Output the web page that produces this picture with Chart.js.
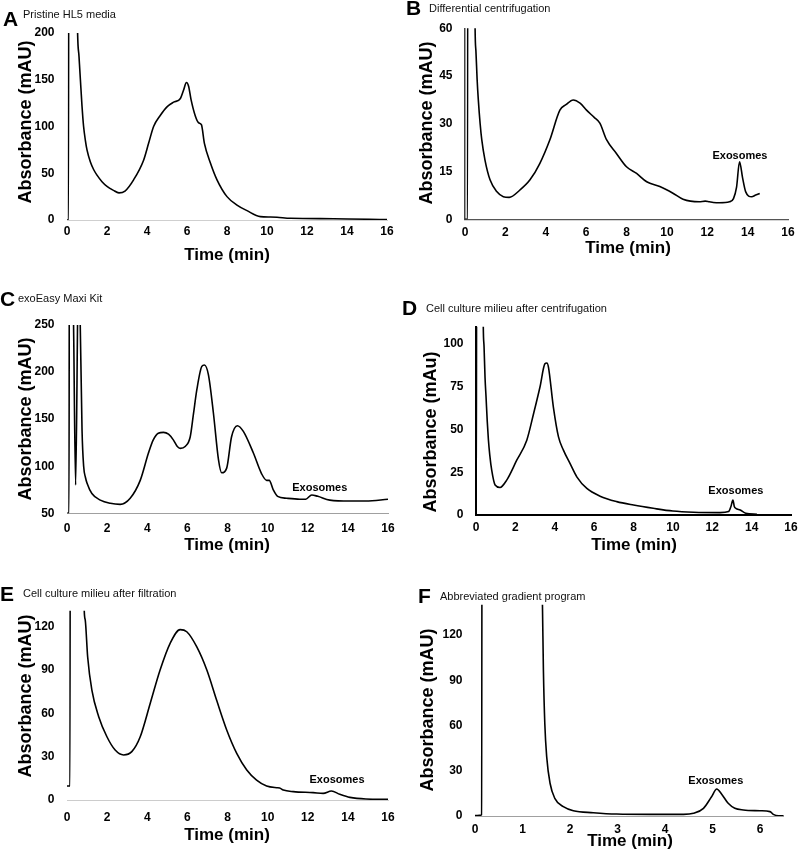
<!DOCTYPE html>
<html><head><meta charset="utf-8">
<script src="https://cdn.jsdelivr.net/npm/chart.js@4/dist/chart.umd.min.js"></script>
<style>
html,body{margin:0;padding:0;background:#fff;}
body{width:800px;height:851px;position:relative;overflow:hidden;}
canvas{position:absolute;}
</style></head><body>
<canvas id="cA" width="400" height="280" style="left:0px;top:0px"></canvas>
<canvas id="cB" width="400" height="280" style="left:400px;top:0px"></canvas>
<canvas id="cC" width="400" height="290" style="left:0px;top:280px"></canvas>
<canvas id="cD" width="400" height="290" style="left:400px;top:280px"></canvas>
<canvas id="cE" width="400" height="281" style="left:0px;top:570px"></canvas>
<canvas id="cF" width="400" height="281" style="left:400px;top:570px"></canvas>
<script>
// ---------- data ----------
const timeA = [0, 0.08, 0.1, 0.4, 0.53, 0.6, 0.67, 0.75, 0.83, 0.92, 1.0, 1.17, 1.33, 1.5, 1.75, 2.0, 2.3, 2.6, 2.9, 3.33, 3.83, 4.08, 4.33, 4.67, 5.0, 5.33, 5.67, 5.83, 5.97, 6.08, 6.2, 6.42, 6.58, 6.72, 6.87, 7.17, 7.5, 8.0, 8.5, 9.0, 9.67, 10.17, 10.5, 11.17, 13.33, 16];
const absA  = [0, 0, 900, 400, 200, 175, 150, 122, 100, 85, 75, 62, 54, 48, 41, 36, 32, 29, 31, 43, 64, 82, 100, 112, 121, 126, 130, 139, 147, 143, 129, 111, 104, 102, 82, 61, 43, 25, 16, 10, 3.6, 3.2, 2.9, 1.8, 1.4, 0.4];

const timeB = [0, 0.13, 0.15, 0.45, 0.5, 0.54, 0.6, 0.66, 0.75, 0.83, 0.99, 1.24, 1.57, 1.9, 2.19, 2.72, 3.22, 3.71, 4.2, 4.7, 5.0, 5.36, 5.7, 6.02, 6.4, 6.68, 7.01, 7.5, 8.0, 8.5, 9.0, 9.65, 10.3, 10.8, 11.6, 11.9, 12.1, 12.3, 12.6, 13.1, 13.3, 13.45, 13.6, 13.75, 13.9, 14.2, 14.4, 14.6];
const absB  = [0, 0, 300, 120, 60, 53, 44, 37.5, 30, 25, 18.6, 12.4, 8.7, 7.1, 6.9, 9.2, 12.4, 17.6, 24.9, 34.3, 36, 37.5, 36.5, 34.3, 32, 30.2, 25, 20.7, 16.5, 14.4, 11.8, 10.3, 8.2, 6.3, 5.5, 5.7, 5.5, 5.3, 5.2, 5.5, 6.5, 10, 18.1, 13, 8.7, 7.1, 7.6, 8.1];

const timeC = [0, 0.1, 0.12, 0.32, 0.43, 0.53, 0.6, 0.66, 0.75, 0.83, 0.92, 1.0, 1.24, 1.66, 2.16, 2.65, 3.15, 3.65, 4.06, 4.3, 4.55, 4.81, 5.06, 5.3, 5.5, 5.64, 5.89, 6.14, 6.3, 6.47, 6.72, 6.85, 7.05, 7.3, 7.55, 7.71, 7.96, 8.2, 8.49, 8.79, 9.29, 9.7, 9.95, 10.08, 10.28, 10.5, 10.95, 11.6, 11.9, 12.2, 12.5, 13.1, 14.1, 14.9, 16];
const absC  = [50, 50, 400, 260, 80, 260, 400, 250, 138, 100, 88, 82, 71, 64, 60.6, 59.5, 66, 85, 114, 128, 135, 136, 134, 128, 121, 119, 121, 131, 155, 181, 206, 207.5, 197, 156, 107, 93, 98, 131, 143, 137, 114, 92, 85, 85, 75, 68, 66, 65, 65, 69.5, 68, 64, 63, 63, 65];

const timeD = [0, 0.02, 0.04, 0.3, 0.37, 0.41, 0.46, 0.51, 0.57, 0.63, 0.7, 0.8, 0.97, 1.22, 1.56, 2.07, 2.58, 2.92, 3.25, 3.5, 3.6, 3.68, 3.93, 4.19, 4.44, 4.78, 5.12, 5.63, 6.3, 7.15, 8, 9, 10, 11.05, 12.4, 12.83, 12.95, 13.05, 13.12, 13.2, 13.42, 13.7, 14.27];
const absD  = [0, 0, 300, 200, 110, 98, 80, 69, 55, 44, 35, 26, 17.5, 16.1, 20.4, 32, 43.7, 59, 74.8, 88.3, 88.8, 86.4, 63, 45.6, 37.9, 30, 22.3, 15.5, 11, 7.8, 5.8, 3.9, 2.3, 1.6, 1.4, 2, 5, 8.7, 5, 3.9, 2.9, 1, 0.4];

const timeE = [0, 0.15, 0.17, 0.8, 0.86, 0.91, 1.03, 1.24, 1.58, 1.99, 2.4, 2.82, 3.23, 3.65, 4.15, 4.64, 5.14, 5.64, 5.97, 6.47, 6.97, 7.46, 7.96, 8.46, 8.96, 9.45, 9.95, 10.45, 10.6, 10.78, 11.28, 12.27, 12.77, 13.18, 13.6, 14.1, 14.9, 16];
const absE  = [9.7, 9.7, 400, 200, 131, 124.6, 99, 76, 57.7, 43.8, 34.6, 31.2, 33.5, 43.8, 67, 90, 108.5, 118, 116.5, 106, 90, 69, 48.5, 32.3, 20.8, 13.8, 9.7, 8.5, 8.3, 6.9, 5.8, 5.1, 4.6, 6.2, 3.9, 1.8, 0.7, 0.5];

const timeF = [0, 0.1, 0.14, 0.155, 1.3, 1.42, 1.44, 1.47, 1.51, 1.58, 1.68, 1.86, 2.07, 2.49, 2.98, 3.68, 4.39, 4.6, 4.81, 4.98, 5.09, 5.19, 5.33, 5.47, 5.65, 6.0, 6.21, 6.28, 6.39, 6.5];
const absF  = [0.3, 0.4, 0.8, 500, 300, 140, 97, 61, 39, 21.7, 11.7, 6.2, 3.5, 2.2, 1.3, 1.1, 1.1, 1.8, 5.1, 12.8, 17.9, 14.6, 8.4, 5.1, 4, 3.5, 2.9, 1.1, 0.2, 0.2];

const xTicks16 = [0, 2, 4, 6, 8, 10, 12, 14, 16];
const xTicksF  = [0, 1, 2, 3, 4, 5, 6];
const yTicksA = [0, 50, 100, 150, 200];
const yTicksB = [0, 15, 30, 45, 60];
const yTicksC = [50, 100, 150, 200, 250];
const yTicksD = [0, 25, 50, 75, 100];
const yTicksE = [0, 30, 60, 90, 120];
const yTicksF = [0, 30, 60, 90, 120];

const panelLetters = ['A', 'B', 'C', 'D', 'E', 'F'];
const panelTitles = ['Pristine HL5 media', 'Differential centrifugation', 'exoEasy Maxi Kit',
  'Cell culture milieu after centrifugation', 'Cell culture milieu after filtration', 'Abbreviated gradient program'];
const xTitle = 'Time (min)';
const yTitles = ['Absorbance (mAU)', 'Absorbance (mAU)', 'Absorbance (mAU)', 'Absorbance (mAu)', 'Absorbance (mAU)', 'Absorbance (mAU)'];
const noteText = 'Exosomes';
// label anchors in data units (time, absorbance)
const noteB = [13.62, 19.9];
const noteC = [12.6, 76.9];
const noteD = [13.2, 14.0];
const noteE = [13.46, 13.8];
const noteF = [5.07, 23.2];

// ---------- drawing ----------
const FONT = '"Liberation Sans", Arial, Helvetica, sans-serif';
const XH = 30;

function pts(t, v) { return t.map((x, i) => ({ x: x, y: v[i] })); }
function zeroPad(s) { s.paddingLeft = 0; s.paddingRight = 0; s.paddingTop = 0; s.paddingBottom = 0; }

function textPlugin(c) {
  return {
    id: 'panelText' + c.id,
    afterDatasetsDraw(chart) {
      if (!c.note) return;
      const ctx = chart.ctx;
      const x = chart.scales.x.getPixelForValue(c.note[0]);
      const y = chart.scales.y.getPixelForValue(c.note[1]);
      ctx.save();
      ctx.fillStyle = '#000';
      ctx.font = 'bold 11px ' + FONT;
      ctx.textAlign = 'center';
      ctx.textBaseline = 'middle';
      ctx.fillText(noteText, x, y);
      ctx.restore();
    },
    afterDraw(chart) {
      const ctx = chart.ctx;
      ctx.save();
      ctx.fillStyle = '#000';
      ctx.textBaseline = 'middle';
      ctx.textAlign = 'left';
      ctx.font = 'bold 21px ' + FONT;
      ctx.fillText(c.letter, c.letterPos[0], c.letterPos[1]);
      ctx.fillStyle = '#111';
      ctx.font = '11px ' + FONT;
      ctx.fillText(c.sub, c.subPos[0], c.subPos[1]);
      ctx.fillStyle = '#000';
      ctx.textAlign = 'center';
      ctx.font = 'bold 17px ' + FONT;
      ctx.fillText(xTitle, c.xtPos[0], c.xtPos[1]);
      ctx.translate(c.ytPos[0], c.ytPos[1]);
      ctx.rotate(-Math.PI / 2);
      ctx.font = 'bold 18px ' + FONT;
      ctx.fillText(c.yTitle, 0, 0);
      ctx.restore();
    }
  };
}

function makeChart(c) {
  const el = document.getElementById(c.id);
  const W = el.width, H = el.height;
  const a = c.area;
  return new Chart(el, {
    type: 'line',
    data: { datasets: [{ data: pts(c.t, c.v), borderColor: '#000', borderWidth: 1.6, pointRadius: 0,
      cubicInterpolationMode: 'monotone', fill: false }] },
    options: {
      responsive: false, animation: false, events: [],
      layout: { padding: { left: 0, top: a.top, right: W - a.right, bottom: H - a.bottom - XH } },
      plugins: { legend: { display: false }, tooltip: { enabled: false } },
      scales: {
        x: {
          type: 'linear', min: c.xMin, max: c.xMax,
          grid: { display: false, drawTicks: false },
          border: { display: true, color: c.xAxisColor, width: c.xAxisWidth },
          ticks: { color: '#000', font: { family: FONT, size: 12, weight: 'bold' }, padding: c.xPad, maxRotation: 0, autoSkip: false },
          afterBuildTicks(s) { s.ticks = c.xTicks.map(v => ({ value: v })); },
          afterFit(s) { s.height = XH; zeroPad(s); }
        },
        y: {
          type: 'linear', min: c.yMin, max: c.yMax,
          grid: { display: false, drawTicks: false },
          border: { display: !!c.yAxisColor, color: c.yAxisColor || '#000', width: c.yAxisWidth || 1 },
          ticks: { color: '#000', font: { family: FONT, size: 12, weight: 'bold' }, padding: 12.5 },
          afterBuildTicks(s) { s.ticks = c.yTicks.map(v => ({ value: v })); },
          afterFit(s) { s.width = a.left; zeroPad(s); }
        }
      }
    },
    plugins: [textPlugin(c)]
  });
}

const panels = [
  { id: 'cA', t: timeA, v: absA, xMin: 0, xMax: 16, yMin: 0, yMax: 200, xTicks: xTicks16, yTicks: yTicksA,
    area: { left: 67, right: 387, top: 33, bottom: 220 }, xPad: 4.5, xAxisColor: '#cfcfcf', xAxisWidth: 1,
    letter: panelLetters[0], sub: panelTitles[0], yTitle: yTitles[0], note: null,
    letterPos: [3, 20], subPos: [23, 15], ytPos: [26, 122], xtPos: [227, 255] },
  { id: 'cB', t: timeB, v: absB, xMin: 0, xMax: 16, yMin: 0, yMax: 60, xTicks: xTicks16, yTicks: yTicksB,
    area: { left: 65, right: 388, top: 28.3, bottom: 219.3 }, xPad: 6, xAxisColor: '#555', xAxisWidth: 1.2,
    yAxisColor: '#444', yAxisWidth: 1.5,
    letter: panelLetters[1], sub: panelTitles[1], yTitle: yTitles[1], note: noteB,
    letterPos: [6, 9], subPos: [29, 9], ytPos: [27, 123], xtPos: [228, 248] },
  { id: 'cC', t: timeC, v: absC, xMin: 0, xMax: 16, yMin: 50, yMax: 250, xTicks: xTicks16, yTicks: yTicksC,
    area: { left: 67, right: 388, top: 45, bottom: 233.3 }, xPad: 8, xAxisColor: '#a0a0a0', xAxisWidth: 1,
    letter: panelLetters[2], sub: panelTitles[2], yTitle: yTitles[2], note: noteC,
    letterPos: [0, 20], subPos: [18, 19], ytPos: [26, 139], xtPos: [227, 265] },
  { id: 'cD', t: timeD, v: absD, xMin: 0, xMax: 16, yMin: 0, yMax: 110, xTicks: xTicks16, yTicks: yTicksD,
    area: { left: 76, right: 391, top: 46.7, bottom: 235 }, xPad: 5.5, xAxisColor: '#000', xAxisWidth: 2,
    yAxisColor: '#000', yAxisWidth: 2,
    letter: panelLetters[3], sub: panelTitles[3], yTitle: yTitles[3], note: noteD,
    letterPos: [2, 29], subPos: [26, 29], ytPos: [31, 152], xtPos: [234, 265] },
  { id: 'cE', t: timeE, v: absE, xMin: 0, xMax: 16, yMin: 0, yMax: 131, xTicks: xTicks16, yTicks: yTicksE,
    area: { left: 67, right: 388, top: 40.8, bottom: 230 }, xPad: 10.5, xAxisColor: '#cccccc', xAxisWidth: 1,
    letter: panelLetters[4], sub: panelTitles[4], yTitle: yTitles[4], note: noteE,
    letterPos: [0, 25], subPos: [23, 24], ytPos: [26, 126], xtPos: [227, 265] },
  { id: 'cF', t: timeF, v: absF, xMin: 0, xMax: 6.5, yMin: 0, yMax: 140, xTicks: xTicksF, yTicks: yTicksF,
    area: { left: 75, right: 383.75, top: 34.8, bottom: 246 }, xPad: 6.5, xAxisColor: '#a0a0a0', xAxisWidth: 1,
    letter: panelLetters[5], sub: panelTitles[5], yTitle: yTitles[5], note: noteF,
    letterPos: [18, 27.5], subPos: [40, 27], ytPos: [28, 140], xtPos: [230, 271] }
];

panels.forEach(makeChart);
</script>
</body></html>
